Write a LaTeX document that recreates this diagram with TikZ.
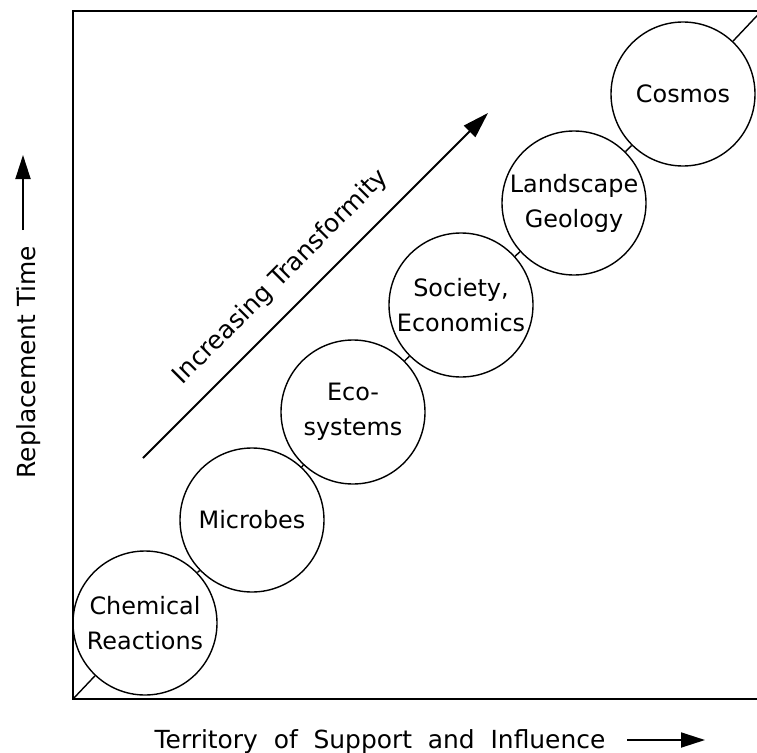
\documentclass[tikz,border=0pt]{standalone}
\usepackage{fontspec}
\setmainfont{DejaVu Sans}
\usetikzlibrary{arrows.meta}

\begin{document}
        \begin{tikzpicture}[x=1bp, y=-1bp,
            stage/.style={circle, draw, line width=1.4bp, minimum size=144bp, inner sep=0pt, align=center, font=\fontsize{24}{35}\selectfont},
            link/.style={line width=1.4bp},
            axisText/.style={font=\fontsize{25}{30}\selectfont, inner sep=0pt},
            axisArrow/.style={line width=1.8bp, -{Triangle[length=24bp, width=15bp]}}]
            \useasboundingbox (0,0) rectangle (757,753);
            \draw[line width=2bp] (73,11) rectangle (761,699);
            \coordinate (corner) at (73,699);
            \coordinate (farEnd) at (770,2);
            \node[stage] (chemReact) at (145,623) {Chemical\\Reactions};
            \node[stage] (microbes) at (252,520) {Microbes};
            \node[stage] (ecoSys) at (353,412) {Eco-\\systems};
            \node[stage] (society) at (461,305) {Society,\\Economics};
            \node[stage] (landGeo) at (574,203) {Landscape\\Geology};
            \node[stage] (cosmos) at (683,94) {Cosmos};
            \draw[link] (corner) -- (chemReact);
            \draw[link] (chemReact) -- (microbes);
            \draw[link] (microbes) -- (ecoSys);
            \draw[link] (ecoSys) -- (society);
            \draw[link] (society) -- (landGeo);
            \draw[link] (landGeo) -- (cosmos);
            \draw[link] (cosmos) -- (farEnd);
            \coordinate (trendStart) at (143,458);
            \coordinate (trendEnd) at (488,113);
            \draw[axisArrow, -{Triangle[length=26bp, width=16bp]}] (trendStart) -- (trendEnd);
            \node[axisText, rotate=45] (trendLabel) at (281,277) {Increasing Transformity};
            \node[axisText, anchor=base] (xLabel) at (380,748) {Territory\ \ of\ \ Support\ \ and\ \ Influence};
            \coordinate (xTail) at (627,740);
            \coordinate (xHead) at (705,740);
            \draw[axisArrow] (xTail) -- (xHead);
            \node[axisText, anchor=base, rotate=90] (yLabel) at (35,362) {Replacement Time};
            \coordinate (yTail) at (23,230);
            \coordinate (yHead) at (23,155);
            \draw[axisArrow] (yTail) -- (yHead);
        \end{tikzpicture}
\end{document}
